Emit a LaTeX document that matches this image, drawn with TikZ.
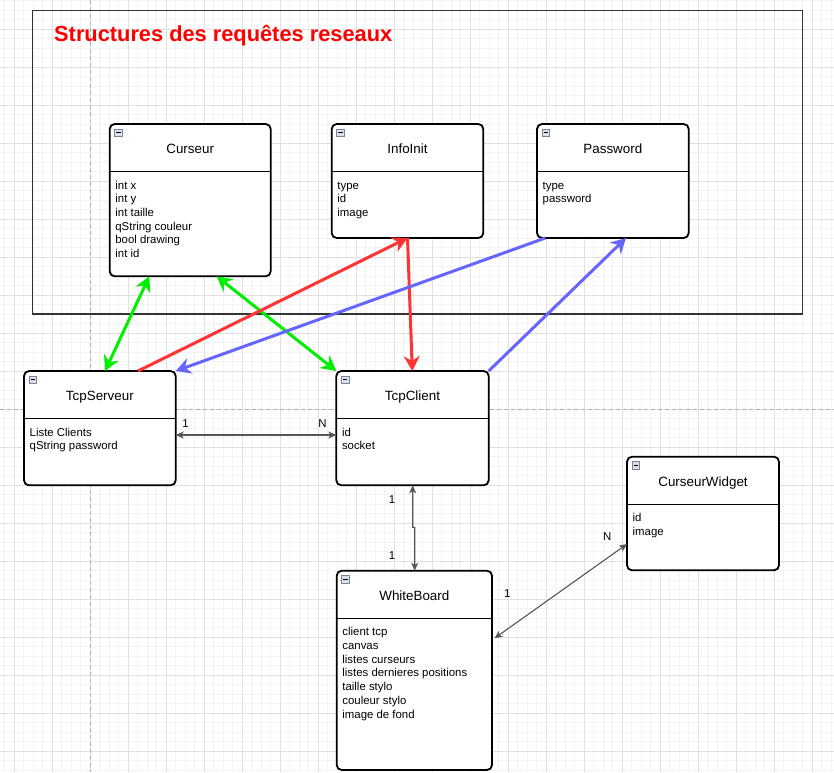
\documentclass[tikz,border=0pt]{standalone}
\usepackage{fontspec}
\setmainfont{Liberation Sans}
\usetikzlibrary{arrows.meta,calc}
\definecolor{gridminor}{HTML}{F3F3F3}
\definecolor{gridmajor}{HTML}{E0E0E0}
\definecolor{pagebrk}{HTML}{B0B0B0}
\definecolor{frameclr}{HTML}{333333}
\definecolor{arrgreen}{HTML}{00EE00}
\definecolor{arrred}{HTML}{FF3333}
\definecolor{arrblue}{HTML}{6666FF}
\definecolor{arrgray}{HTML}{555555}
\definecolor{iconfill}{HTML}{DCDFE8}
\definecolor{iconline}{HTML}{7A849A}
\tikzset{
  umlframe/.style={draw=black, line width=1.8pt, fill=white, rounded corners=5pt, inner sep=0pt, outer sep=0pt},
  sepline/.style={draw=black, line width=1.5pt},
  titletext/.style={font=\fontsize{13.4}{16}\selectfont, inner sep=0pt},
  itemtext/.style={font=\fontsize{11.4}{13.7}\selectfont, align=left, inner sep=0pt},
  iconbox/.style={draw=iconline, fill=iconfill, line width=0.7pt, minimum width=7.6pt, minimum height=7.4pt, inner sep=0pt, outer sep=0pt},
  boldarrow/.style={line width=3pt},
  bigend/.style={-{Stealth[length=15pt,width=16pt,inset=5pt]}},
  bigboth/.style={{Stealth[length=15pt,width=16pt,inset=5pt]}-{Stealth[length=15pt,width=16pt,inset=5pt]}},
  thinarrow/.style={draw=arrgray, line width=1.1pt, {Stealth[length=8pt,width=7pt,inset=2.2pt]}-{Stealth[length=8pt,width=7pt,inset=2.2pt]}},
  elabel/.style={font=\fontsize{11.4}{13.7}\selectfont, inner sep=0pt, text=black},
  framebox/.style={draw=frameclr, line width=1.2pt, inner sep=0pt, outer sep=0pt},
  pagebreak/.style={draw=pagebrk, line width=0.8pt, dash pattern=on 4pt off 3pt},
}
\newcommand{\umlbox}[7]{%
  \node[umlframe, minimum width=#4pt, minimum height=#5pt, anchor=north west] (#1) at (#2,#3) {};
  \draw[sepline] ([yshift=-47.7pt]#1.north west) -- ([yshift=-47.7pt]#1.north east);
  \node[titletext, anchor=base] (#1-t) at ([yshift=-29.3pt]#1.north) {#6};
  \node[itemtext, anchor=north west] (#1-i) at ([xshift=5.5pt,yshift=-55.3pt]#1.north west) {\strut #7};
  \node[iconbox, anchor=north west] (#1-ic) at ([xshift=5pt,yshift=-5pt]#1.north west) {};
  \draw[line width=0.9pt] ([xshift=1.7pt]#1-ic.west) -- ([xshift=-1.7pt]#1-ic.east);
}
\begin{document}
\begin{tikzpicture}[x=1pt,y=-1pt]
\useasboundingbox (0,0) rectangle (834,772);
\fill[white] (0,0) rectangle (834,772);
% grid
\foreach \i in {0,...,87} {\draw[gridminor, line width=0.9pt] ({4.8+9.5*\i},0) -- ({4.8+9.5*\i},772);}
\foreach \i in {0,...,81} {\draw[gridminor, line width=0.9pt] (0,{0.8+9.5*\i}) -- (834,{0.8+9.5*\i});}
\foreach \i in {0,...,21} {\draw[gridmajor, line width=1pt] ({14.3+38*\i},0) -- ({14.3+38*\i},772);}
\foreach \i in {0,...,19} {\draw[gridmajor, line width=1pt] (0,{29.3+38*\i}) -- (834,{29.3+38*\i});}
% page breaks
\draw[pagebreak] (90.3,0) -- (90.3,772);
\draw[pagebreak] (0,409.3) -- (834,409.3);
% frame and title
\node[framebox, anchor=north west, minimum width=769.6pt, minimum height=303.3pt] (frame) at (32.7,10.7) {};
\node[font=\bfseries\fontsize{21.8}{26}\selectfont, text=red, anchor=base west, inner sep=0pt] (title) at (54,41.5) {Structures des requêtes reseaux};
% boxes
\umlbox{curseur}{109.7}{124}{161}{152.3}{Curseur}{int x\\int y\\int taille\\qString couleur\\bool drawing\\int id}
\umlbox{infoinit}{331.7}{124}{151.6}{114}{InfoInit}{type\\id\\image}
\umlbox{password}{537}{124}{151.7}{114}{Password}{type\\password}
\umlbox{tcpserveur}{24}{371}{151.7}{114.3}{TcpServeur}{Liste Clients\\qString password}
\umlbox{tcpclient}{336.3}{371}{152.4}{114.3}{TcpClient}{id\\socket}
\umlbox{curseurwidget}{627}{456.7}{152}{113.6}{CurseurWidget}{id\\image}
\umlbox{whiteboard}{336.7}{570.7}{155.3}{199.3}{WhiteBoard}{client tcp\\canvas\\listes curseurs\\listes dernieres positions\\taille stylo\\couleur stylo\\image de fond}
% coloured connectors
\draw[boldarrow, draw=arrgreen, bigboth] ([xshift=39.6pt]curseur.south west) -- ([xshift=81pt]tcpserveur.north west);
\draw[boldarrow, draw=arrgreen, bigboth] ([xshift=107pt]curseur.south west) -- (tcpclient.north west);
\draw[boldarrow, draw=arrred, bigend] ([xshift=114pt]tcpserveur.north west) -- (infoinit.south);
\draw[boldarrow, draw=arrred, bigend] (infoinit.south) -- ([xshift=76pt]tcpclient.north west);
\draw[boldarrow, draw=arrblue, bigend] ([xshift=8.3pt]password.south west) -- (tcpserveur.north east);
\draw[boldarrow, draw=arrblue, bigend] (tcpclient.north east) -- ([xshift=89pt]password.south west);
% thin connectors
\draw[thinarrow] ([yshift=-64pt]tcpserveur.north east) -- ([yshift=-64pt]tcpclient.north west);
\coordinate (jogA) at ([xshift=76.4pt,yshift=-42pt]tcpclient.south west);
\coordinate (jogB) at ([xshift=78pt,yshift=43.2pt]whiteboard.north west);
\draw[thinarrow] ([xshift=76.4pt]tcpclient.south west) -- (jogA) -- (jogB) -- ([xshift=78pt]whiteboard.north west);
\draw[thinarrow] ([xshift=2.5pt,yshift=-67.6pt]whiteboard.north east) -- ([yshift=-87.3pt]curseurwidget.north west);
% labels
\node[elabel] (l1) at (185.5,423.3) {1};
\node[elabel] (l2) at (322.5,423.3) {N};
\node[elabel] (l3) at (392,499.3) {1};
\node[elabel] (l4) at (392,556) {1};
\node[elabel] (l5) at (507.3,594) {1};
\node[elabel] (l6) at (607.3,536.7) {N};
\end{tikzpicture}
\end{document}
